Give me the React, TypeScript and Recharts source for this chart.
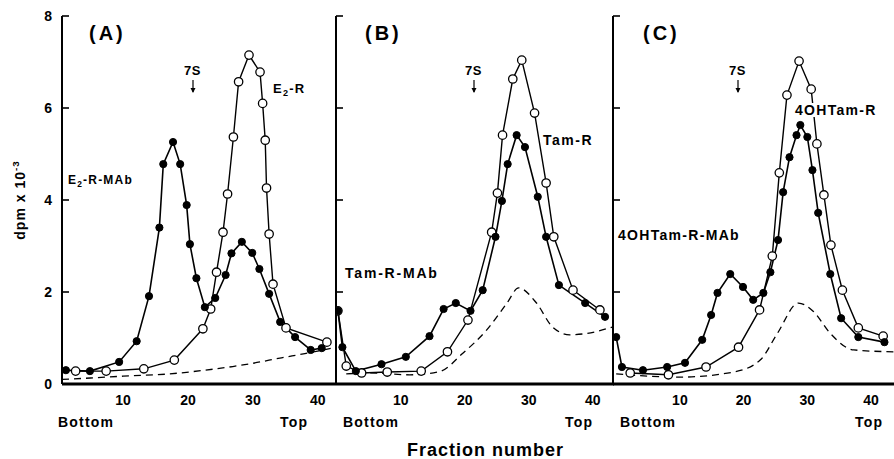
import { LineChart, Line, XAxis, YAxis } from "recharts";

// (A) E2-R-MAb (filled) / E2-R (open) / background (dashed)
const aMabFrac = [1.2, 4.9, 9.4, 12.1, 14.0, 15.6, 16.2, 17.7, 18.8, 19.8, 20.3, 21.3, 22.6, 24.2, 25.8, 26.7, 28.3, 29.9, 31.0, 32.5, 34.2, 36.5, 38.9, 40.6];
const aMabDpm = [0.3, 0.28, 0.48, 0.93, 1.91, 3.4, 4.78, 5.26, 4.78, 3.89, 3.04, 2.3, 1.67, 1.87, 2.37, 2.84, 3.09, 2.85, 2.5, 1.96, 1.35, 1.02, 0.74, 0.78];
const aRecFrac = [2.7, 7.4, 13.2, 17.9, 22.3, 23.5, 24.4, 25.4, 26.1, 27.0, 27.8, 29.4, 31.1, 31.5, 31.9, 32.1, 32.5, 33.1, 35.1, 41.4];
const aRecDpm = [0.28, 0.28, 0.33, 0.52, 1.2, 1.63, 2.43, 3.3, 4.13, 5.37, 6.57, 7.15, 6.78, 6.1, 5.3, 4.26, 3.26, 2.17, 1.22, 0.91];
const aBgFrac = [0.6, 5, 10, 17.2, 22, 26.9, 30, 34.4, 38, 42.8];
const aBgDpm = [0.1, 0.13, 0.17, 0.22, 0.29, 0.38, 0.45, 0.57, 0.66, 0.8];

// (B) Tam-R-MAb / Tam-R
const bMabFrac = [0.2, 0.9, 3.0, 7.0, 10.8, 14.5, 16.7, 18.6, 20.9, 22.8, 24.8, 25.8, 26.7, 28.1, 29.4, 31.4, 32.7, 34.7, 38.8, 41.9];
const bMabDpm = [1.59, 0.8, 0.28, 0.43, 0.59, 1.04, 1.63, 1.76, 1.59, 2.04, 3.2, 3.98, 4.78, 5.41, 5.15, 4.07, 3.2, 2.15, 1.76, 1.46];
const bRecFrac = [0.2, 1.5, 3.9, 7.9, 13.2, 17.3, 20.5, 24.2, 25.1, 25.9, 27.5, 28.9, 30.9, 32.7, 33.9, 36.9, 41.1];
const bRecDpm = [1.59, 0.39, 0.24, 0.26, 0.28, 0.7, 1.39, 3.3, 4.15, 5.41, 6.63, 7.04, 5.89, 4.37, 3.2, 2.04, 1.61];
const bBgFrac = [1.5, 5.2, 11.4, 16.1, 19.7, 23.4, 26.6, 28.4, 31.2, 33.7, 36.4, 39.1, 43.3];
const bBgDpm = [0.22, 0.24, 0.2, 0.27, 0.67, 1.17, 1.76, 2.09, 1.76, 1.24, 1.07, 1.1, 1.25];

// (C) 4OHTam-R-MAb / 4OHTam-R
const cMabFrac = [0, 0.9, 4.2, 8.0, 10.8, 13.5, 14.9, 15.9, 17.9, 19.9, 21.5, 23.1, 24.2, 25.4, 26.2, 27.2, 28.3, 28.9, 30.0, 30.8, 31.7, 33.6, 35.3, 38.0, 42.1];
const cMabDpm = [1.02, 0.37, 0.3, 0.37, 0.46, 0.96, 1.5, 1.98, 2.39, 2.11, 1.83, 1.98, 2.43, 3.13, 4.17, 4.93, 5.41, 5.63, 5.37, 4.65, 3.72, 2.39, 1.43, 1.02, 0.91];
const cRecFrac = [2.2, 8.2, 14.1, 19.2, 22.5, 24.5, 25.6, 26.8, 28.7, 30.6, 31.5, 32.6, 33.7, 35.5, 38.0, 41.9];
const cRecDpm = [0.24, 0.2, 0.37, 0.8, 1.61, 2.78, 4.59, 6.28, 7.02, 6.41, 5.22, 4.11, 3.02, 2.04, 1.22, 1.04];
const cBgFrac = [0, 10, 18.4, 22.6, 25.3, 28.6, 31, 33.6, 37.3, 43.6];
const cBgDpm = [0.22, 0.15, 0.26, 0.52, 1.1, 1.76, 1.57, 1.1, 0.74, 0.7];

const xTicks = [10, 20, 30, 40];
const yTicks = [0, 2, 4, 6, 8];

const zip = (xs: number[], ys: number[]) => xs.map((x, i) => ({ x, y: ys[i] }));

const FONT = "'Liberation Sans', Arial, sans-serif";

function YTick({ x, y, payload, showLabel }: any) {
  return (
    <g>
      <line x1={x} y1={y} x2={x + 7} y2={y} stroke="#000" strokeWidth={1.6} />
      {showLabel && (
        <text x={x - 10} y={y} dy={5} textAnchor="end" fontSize={14} fontWeight="bold" fontFamily={FONT} fill="#000">
          {payload.value}
        </text>
      )}
    </g>
  );
}

interface PanelProps {
  left: number;
  width: number;
  axisWidth: number;
  domain: [number, number];
  mab: { x: number; y: number }[];
  rec: { x: number; y: number }[];
  bg: { x: number; y: number }[];
  showLabels?: boolean;
}

function Panel({ left, width, axisWidth, domain, mab, rec, bg, showLabels }: PanelProps) {
  return (
    <div style={{ position: "absolute", left, top: 0 }}>
      <LineChart width={width} height={459} margin={{ top: 16, right: 0, bottom: 45, left: 0 }}>
        <XAxis
          type="number"
          dataKey="x"
          domain={domain}
          allowDataOverflow
          ticks={xTicks}
          tickLine={false}
          tickSize={0}
          tickMargin={11}
          height={30}
          axisLine={{ stroke: "#000", strokeWidth: 3 }}
          tick={{ fill: "#000", fontSize: 14, fontWeight: "bold", fontFamily: FONT }}
        />
        <YAxis
          type="number"
          domain={[0, 8]}
          ticks={yTicks}
          width={axisWidth}
          tickLine={false}
          tickSize={0}
          tickMargin={0}
          axisLine={{ stroke: "#000", strokeWidth: 2 }}
          tick={(p: any) => <YTick {...p} showLabel={showLabels} />}
        />
        <Line
          data={bg}
          dataKey="y"
          type="monotone"
          stroke="#000"
          strokeWidth={1.3}
          strokeDasharray="7 5"
          dot={false}
          isAnimationActive={false}
        />
        <Line
          data={rec}
          dataKey="y"
          type="linear"
          stroke="#000"
          strokeWidth={1.4}
          dot={{ r: 4.2, fill: "#fff", stroke: "#000", strokeWidth: 1.3 }}
          isAnimationActive={false}
        />
        <Line
          data={mab}
          dataKey="y"
          type="linear"
          stroke="#000"
          strokeWidth={1.6}
          dot={{ r: 3.6, fill: "#000", stroke: "#000", strokeWidth: 1 }}
          isAnimationActive={false}
        />
      </LineChart>
    </div>
  );
}

function Note({ left, cy, size = 14, children, bg, spacing = 1.2 }: any) {
  return (
    <div
      style={{
        position: "absolute",
        left,
        top: cy - size / 2,
        fontSize: size,
        lineHeight: `${size}px`,
        fontWeight: "bold",
        fontFamily: FONT,
        letterSpacing: spacing,
        whiteSpace: "nowrap",
        background: bg ? "#fff" : undefined,
        color: "#000",
      }}
    >
      {children}
    </div>
  );
}

function Marker7S({ cx }: { cx: number }) {
  return (
    <>
      <Note left={cx - 9} cy={70} size={13} spacing={0.5}>7S</Note>
      <svg style={{ position: "absolute", left: cx - 4, top: 80 }} width={8} height={14}>
        <line x1={4} y1={0} x2={4} y2={12} stroke="#000" strokeWidth={1.2} />
        <path d="M1.5,8 L4,13 L6.5,8 Z" fill="#000" />
      </svg>
    </>
  );
}

const sub = { fontSize: "0.7em", verticalAlign: "-0.3em" };

export default function App() {
  return (
    <div style={{ position: "relative", width: 894, height: 459, background: "#fff", overflow: "hidden" }}>
      <style>{"body{margin:0}"}</style>
      <Panel left={0} width={336} axisWidth={62} domain={[0.6, 42.8]} mab={zip(aMabFrac, aMabDpm)} rec={zip(aRecFrac, aRecDpm)} bg={zip(aBgFrac, aBgDpm)} showLabels />
      <Panel left={300} width={314} axisWidth={36} domain={[-0.1, 43.3]} mab={zip(bMabFrac, bMabDpm)} rec={zip(bRecFrac, bRecDpm)} bg={zip(bBgFrac, bBgDpm)} />
      <Panel left={577} width={317} axisWidth={36} domain={[-0.5, 43.6]} mab={zip(cMabFrac, cMabDpm)} rec={zip(cRecFrac, cRecDpm)} bg={zip(cBgFrac, cBgDpm)} />

      <Note left={89} cy={33} size={20} spacing={3}>(A)</Note>
      <Note left={365} cy={33} size={20} spacing={3}>(B)</Note>
      <Note left={643} cy={33} size={20} spacing={3}>(C)</Note>

      <Marker7S cx={193} />
      <Marker7S cx={474} />
      <Marker7S cx={738} />

      <Note left={273} cy={88} size={13}>E<span style={sub}>2</span>-R</Note>
      <Note left={68} cy={180} size={12}>E<span style={sub}>2</span>-R-MAb</Note>
      <Note left={543} cy={140} size={14} spacing={1.5}>Tam-R</Note>
      <Note left={345} cy={273} size={14} spacing={1.8}>Tam-R-MAb</Note>
      <Note left={795} cy={110} size={14} spacing={1.3} bg>4OHTam-R</Note>
      <Note left={618} cy={235} size={14} spacing={1.3}>4OHTam-R-MAb</Note>

      <Note left={58} cy={422} size={14}>Bottom</Note>
      <Note left={280} cy={422} size={14}>Top</Note>
      <Note left={343} cy={422} size={14}>Bottom</Note>
      <Note left={565} cy={422} size={14}>Top</Note>
      <Note left={620} cy={422} size={14}>Bottom</Note>
      <Note left={855} cy={422} size={14}>Top</Note>

      <div
        style={{
          position: "absolute",
          left: 407,
          top: 441,
          fontSize: 18,
          lineHeight: "18px",
          fontFamily: FONT,
          fontWeight: "bold",
          letterSpacing: 1,
          whiteSpace: "nowrap",
        }}
      >
        Fraction number
      </div>
      <div
        style={{
          position: "absolute",
          left: 18,
          top: 200,
          transform: "translate(-50%, -50%) rotate(-90deg)",
          fontSize: 14,
          lineHeight: "14px",
          fontFamily: FONT,
          fontWeight: "bold",
          letterSpacing: 1,
          whiteSpace: "nowrap",
        }}
      >
        dpm x 10<sup style={{ fontSize: "0.7em", verticalAlign: "0.6em" }}>-3</sup>
      </div>
    </div>
  );
}
